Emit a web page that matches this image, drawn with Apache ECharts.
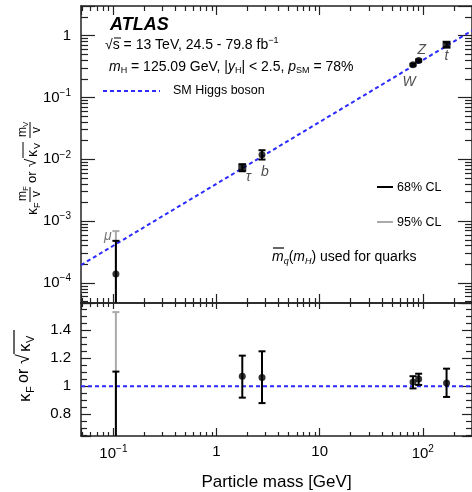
<!DOCTYPE html>
<html>
<head>
<meta charset="utf-8">
<title>Higgs couplings vs particle mass</title>
<script src="https://cdn.jsdelivr.net/npm/echarts@6/dist/echarts.min.js"></script>
<style>
    html, body { margin: 0; padding: 0; background: #fff; }
    #main { width: 472px; height: 492px; }
</style>
</head>
<body>
<div id="main"></div>
<script>
// particles and their masses [GeV]
var particles = ['μ', 'τ', 'b', 'W', 'Z', 't'];
var masses = [0.1057, 1.777, 2.76, 80.4, 91.19, 170];
var symbols = ['circle', 'rect', 'circle', 'circle', 'circle', 'rect'];
// upper panel: kF*mF/v or sqrt(kV)*mV/v
var reduced = [1.4e-4, 7.35e-3, 0.0118, 0.337, 0.393, 0.71];
var reducedLo68 = [1e-6, 6.4e-3, 0.0099, 0.325, 0.378, 0.65];
var reducedHi68 = [4.8e-4, 8.3e-3, 0.0140, 0.350, 0.410, 0.78];
var reducedLo95 = [1e-6, null, null, null, null, null];
var reducedHi95 = [6.9e-4, null, null, null, null, null];
// lower panel: kF or sqrt(kV)
var kappa = [0.33, 1.071, 1.062, 1.031, 1.052, 1.024];
var kappaLo68 = [0.0, 0.919, 0.88, 0.985, 1.01, 0.924];
var kappaHi68 = [1.105, 1.219, 1.25, 1.072, 1.09, 1.126];
var kappaLo95 = [0.0, null, null, null, null, null];
var kappaHi95 = [1.53, null, null, null, null, null];
// SM Higgs boson expectation, end points of the dashed line
var smMass = [0.0485, 300];
var smReduced = [1.95e-4, 1.2];
var smKappa = [1, 1];
// tick labels
var lowerTicks = [0.8, 1, 1.2, 1.4];

// label offsets for the particle names (px)
var nameOffsets = [[-8, -38], [6, 10], [3, 17], [-4, 17], [3, -11], [0, 11]];

var FONT = 'Liberation Sans, Arial, sans-serif';
var BLUE = '#2b2bff';
var AXC = '#222';

var myChart = echarts.init(document.getElementById('main'));

function logLabel(v) {
    var l = Math.log10(v);
    var e = Math.round(l);
    if (Math.abs(l - e) > 1e-6) return '';
    if (e === 0) return '{b|1}';
    if (e === 1) return '{b|10}';
    return '{b|10}{s|' + (e < 0 ? '\u2212' + (-e) : e) + '}';
}
var labelRich = {
    b: {fontSize: 15, fontFamily: FONT, color: '#000'},
    s: {fontSize: 10, fontFamily: FONT, color: '#000', padding: [0, 0, 9, 0]}
};

function axisBase(gridIndex, type, min, max, tickLen, minorLen, minorSplit) {
    return {
        type: type, gridIndex: gridIndex, min: min, max: max,
        axisLine: {show: true, onZero: false, lineStyle: {color: AXC, width: 1.5}},
        axisTick: {show: true, inside: true, length: tickLen, lineStyle: {color: AXC, width: 1.2}},
        minorTick: {show: true, splitNumber: minorSplit, length: minorLen, lineStyle: {color: AXC, width: 1.2}},
        splitLine: {show: false},
        minorSplitLine: {show: false},
        axisLabel: {show: false}
    };
}

// x axes
var xUpBottom = axisBase(0, 'log', smMass[0], smMass[1], 9, 5, 9);
xUpBottom.position = 'bottom';
var xUpTop = axisBase(0, 'log', smMass[0], smMass[1], 9, 5, 9);
xUpTop.position = 'top';
var xLowBottom = axisBase(1, 'log', smMass[0], smMass[1], 8, 4, 9);
xLowBottom.position = 'bottom';
xLowBottom.axisLabel = {show: true, margin: 8, formatter: logLabel, rich: labelRich,
    showMinLabel: false, showMaxLabel: false};
xLowBottom.name = 'Particle mass [GeV]';
xLowBottom.nameLocation = 'middle';
xLowBottom.nameGap = 38;
xLowBottom.nameTextStyle = {fontSize: 17, fontFamily: FONT, color: '#000'};
var xLowTop = axisBase(1, 'log', smMass[0], smMass[1], 6, 4, 9);
xLowTop.position = 'top';

// y axes
var yUpLeft = axisBase(0, 'log', 4.75e-5, 3, 14, 7, 9);
yUpLeft.position = 'left';
yUpLeft.axisLabel = {show: true, margin: 10, formatter: logLabel, rich: labelRich,
    showMinLabel: false, showMaxLabel: false};
var yUpRight = axisBase(0, 'log', 4.75e-5, 3, 14, 7, 9);
yUpRight.position = 'right';
var yLowLeft = axisBase(1, 'value', 0.645, 1.595, 10, 6, 4);
yLowLeft.position = 'left';
yLowLeft.splitNumber = 5;
yLowLeft.axisLabel = {show: true, margin: 10, showMinLabel: false, showMaxLabel: false,
    fontSize: 15, fontFamily: FONT, color: '#000',
    formatter: function (v) {
        for (var i = 0; i < lowerTicks.length; i++) {
            if (Math.abs(v - lowerTicks[i]) < 1e-6) return String(lowerTicks[i]);
        }
        return '';
    }};
var yLowRight = axisBase(1, 'value', 0.645, 1.595, 10, 6, 4);
yLowRight.position = 'right';
yLowRight.splitNumber = 5;

function errorBars(gridIdx, lo, hi, color, z) {
    var data = [];
    for (var i = 0; i < masses.length; i++) {
        if (hi[i] == null) continue;
        data.push([masses[i], lo[i], hi[i]]);
    }
    return {
        type: 'custom',
        xAxisIndex: gridIdx * 2,
        yAxisIndex: gridIdx * 2,
        clip: true,
        silent: true,
        z: z,
        encode: {x: 0, y: [1, 2]},
        renderItem: function (params, api) {
            var top = api.coord([api.value(0), api.value(2)]);
            var bot = api.coord([api.value(0), api.value(1)]);
            var c = 3.5;
            var st = {stroke: color, lineWidth: 2};
            return {type: 'group', children: [
                {type: 'line', shape: {x1: top[0], y1: top[1], x2: bot[0], y2: bot[1]}, style: st},
                {type: 'line', shape: {x1: top[0] - c, y1: top[1], x2: top[0] + c, y2: top[1]}, style: st},
                {type: 'line', shape: {x1: bot[0] - c, y1: bot[1], x2: bot[0] + c, y2: bot[1]}, style: st}
            ]};
        },
        data: data
    };
}

// upper panel keeps square markers for tau and top, lower panel uses circles only
function points(gridIdx, values, withNames) {
    var data = [];
    for (var i = 0; i < masses.length; i++) {
        var sym = withNames ? symbols[i] : 'circle';
        data.push({
            value: [masses[i], values[i]],
            symbol: sym,
            symbolSize: sym === 'rect' ? 8 : 7,
            label: withNames ? {show: true, formatter: particles[i], offset: nameOffsets[i],
                color: i === 0 ? '#555' : '#222'} : {show: false}
        });
    }
    return {
        type: 'scatter',
        xAxisIndex: gridIdx * 2,
        yAxisIndex: gridIdx * 2,
        clip: true,
        silent: true,
        z: 5,
        itemStyle: {color: '#000'},
        label: {position: 'inside', fontSize: 14, fontStyle: 'italic', fontFamily: FONT},
        data: data
    };
}

function smLine(gridIdx, ys) {
    return {
        type: 'line',
        name: 'SM Higgs boson',
        xAxisIndex: gridIdx * 2,
        yAxisIndex: gridIdx * 2,
        showSymbol: false,
        silent: true,
        z: 3,
        lineStyle: {color: BLUE, width: 2, type: [4, 3]},
        data: [[smMass[0], ys[0]], [smMass[1], ys[1]]]
    };
}

// rotated y-axis titles built from pieces (text top points left)
function txt(x, y, s, size, extra) {
    var st = {x: x, y: y, text: s, fontSize: size, fontFamily: FONT, fill: '#000',
        verticalAlign: 'middle', align: 'left'};
    if (extra) for (var k in extra) st[k] = extra[k];
    return {type: 'text', style: st};
}
function ln(x1, y1, x2, y2, w) {
    return {type: 'line', shape: {x1: x1, y1: y1, x2: x2, y2: y2}, style: {stroke: '#000', lineWidth: w || 1}};
}

var upperTitle = {
    type: 'group', x: 30, y: 166, rotation: Math.PI / 2,
    children: [
        txt(-49, 3, 'κ', 14), txt(-42, 8, 'F', 9),
        txt(-35, -7, 'm', 12), txt(-25, -4, 'F', 8), ln(-36, 0, -21, 0), txt(-31, 7, 'v', 12),
        txt(-17, 2, 'or', 13),
        txt(-1, 2, '√', 15), ln(8, -7, 24, -7),
        txt(9, 3, 'κ', 14), txt(17, 8, 'V', 9),
        txt(29, -7, 'm', 12), txt(39, -4, 'V', 8), ln(28, 0, 44, 0), txt(33, 7, 'v', 12)
    ]
};
var lowerTitle = {
    type: 'group', x: 23, y: 362, rotation: Math.PI / 2,
    children: [
        txt(-40, 2, 'κ', 17), txt(-31, 8, 'F', 11),
        txt(-21, 1, 'or', 16),
        txt(-2, 1, '√', 18), ln(8, -9, 32, -9, 1.2),
        txt(10, 2, 'κ', 17), txt(19, 8, 'V', 11)
    ]
};

var graphics = [
    upperTitle, lowerTitle,
    {type: 'text', style: {x: 110, y: 25, text: 'ATLAS', fontSize: 18, fontWeight: 'bold', fontStyle: 'italic',
        fontFamily: FONT, fill: '#000', verticalAlign: 'middle'}},
    {type: 'text', style: {x: 105, y: 45, verticalAlign: 'middle', fontFamily: FONT,
        text: '{a|√}{a|s = 13 TeV, 24.5 - 79.8 fb}{s|\u22121}',
        rich: {a: {fontSize: 14, fontFamily: FONT, color: '#000'},
               s: {fontSize: 9, fontFamily: FONT, color: '#000', padding: [0, 0, 8, 0]}}}},
    ln(114, 38, 121, 38, 1),
    {type: 'text', style: {x: 109, y: 67, verticalAlign: 'middle', fontFamily: FONT,
        text: '{i|m}{u|H}{a| = 125.09 GeV, |}{i|y}{u|H}{a|| < 2.5, }{i|p}{u|SM}{a| = 78%}',
        rich: {a: {fontSize: 14, fontFamily: FONT, color: '#000'},
               i: {fontSize: 14, fontFamily: FONT, fontStyle: 'italic', color: '#000'},
               u: {fontSize: 9, fontFamily: FONT, color: '#000', padding: [8, 0, 0, 0]}}}},
    {type: 'line', shape: {x1: 103, y1: 91, x2: 160, y2: 91}, style: {stroke: BLUE, lineWidth: 2, lineDash: [4, 3]}},
    {type: 'text', style: {x: 173, y: 91, text: 'SM Higgs boson', fontSize: 12.5, fontFamily: FONT,
        fill: '#000', verticalAlign: 'middle'}},
    {type: 'line', shape: {x1: 377, y1: 187, x2: 393, y2: 187}, style: {stroke: '#000', lineWidth: 2}},
    {type: 'text', style: {x: 397, y: 188, text: '68% CL', fontSize: 12.5, fontFamily: FONT,
        fill: '#000', verticalAlign: 'middle'}},
    {type: 'line', shape: {x1: 377, y1: 222, x2: 393, y2: 222}, style: {stroke: '#aaa', lineWidth: 2}},
    {type: 'text', style: {x: 397, y: 223, text: '95% CL', fontSize: 12.5, fontFamily: FONT,
        fill: '#000', verticalAlign: 'middle'}},
    {type: 'text', style: {x: 272, y: 257, verticalAlign: 'middle', fontFamily: FONT,
        text: '{i|m}{u|q}{a|(}{i|m}{u|H}{a|) used for quarks}',
        rich: {a: {fontSize: 14, fontFamily: FONT, color: '#000'},
               i: {fontSize: 14, fontFamily: FONT, fontStyle: 'italic', color: '#000'},
               u: {fontSize: 9, fontFamily: FONT, fontStyle: 'italic', color: '#000', padding: [8, 0, 0, 0]}}}},
    ln(273, 248, 284, 248, 1.2)
];

var option = {
    animation: false,
    backgroundColor: '#fff',
    grid: [
        {left: 81, top: 6, width: 392, height: 297},
        {left: 81, top: 303, width: 392, height: 133}
    ],
    xAxis: [xUpBottom, xUpTop, xLowBottom, xLowTop],
    yAxis: [yUpLeft, yUpRight, yLowLeft, yLowRight],
    graphic: graphics,
    series: [
        smLine(0, smReduced),
        smLine(1, smKappa),
        errorBars(0, reducedLo95, reducedHi95, '#aaa', 2),
        errorBars(0, reducedLo68, reducedHi68, '#000', 4),
        errorBars(1, kappaLo95, kappaHi95, '#aaa', 2),
        errorBars(1, kappaLo68, kappaHi68, '#000', 4),
        points(0, reduced, true),
        points(1, kappa, false)
    ]
};
myChart.setOption(option);
</script>
</body>
</html>
